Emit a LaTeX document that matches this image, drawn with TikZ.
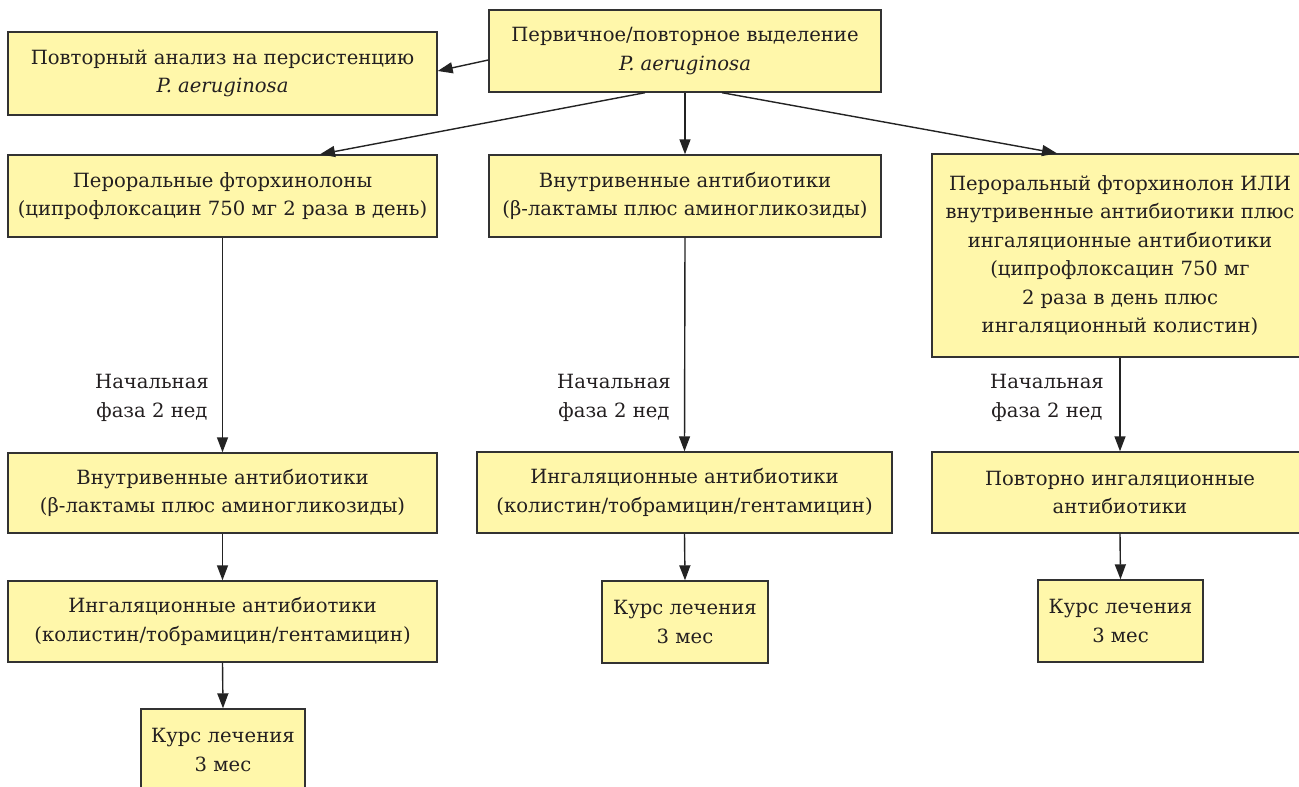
\documentclass[tikz,border=0pt]{standalone}
\usepackage{fontspec}
\setmainfont{DejaVu Serif}
\usetikzlibrary{arrows.meta,calc}
\definecolor{boxfill}{RGB}{255,247,170}
\definecolor{boxline}{RGB}{50,50,50}
\definecolor{arrline}{RGB}{35,35,35}
\definecolor{txt}{RGB}{35,31,32}
\begin{document}
\begin{tikzpicture}[x=1pt,y=-1pt,
  box/.style={draw=boxline,fill=boxfill,line width=1.4pt,align=center,inner sep=0pt,
    text=txt,font=\fontsize{19.6}{28.5}\selectfont},
  arr/.style={draw=arrline,line width=1.4pt,-{Triangle[length=15pt,width=11pt]}},
  lbl/.style={align=center,inner sep=0pt,text=txt,font=\fontsize{19.6}{28.5}\selectfont}]
\useasboundingbox (0,0) rectangle (1299,787);
\fill[white] (0,0) rectangle (1299,787);
% row 0
\node[box,minimum width=392pt,minimum height=82pt] (top) at (685,51)
  {Первичное/повторное выделение\\\textit{P.~aeruginosa}};
\node[box,minimum width=429pt,minimum height=83pt] (rep) at (222.5,73.5)
  {Повторный анализ на персистенцию\\\textit{P.~aeruginosa}};
% row 1
\node[box,minimum width=429pt,minimum height=82pt] (b1) at (222.5,196)
  {Пероральные фторхинолоны\\(ципрофлоксацин 750 мг 2 раза в день)};
\node[box,minimum width=392pt,minimum height=82pt] (b2) at (685,196)
  {Внутривенные антибиотики\\(β-лактамы плюс аминогликозиды)};
\node[box,minimum width=376pt,minimum height=203pt] (b3) at (1120,255.5)
  {Пероральный фторхинолон ИЛИ\\внутривенные антибиотики плюс\\ингаляционные антибиотики\\(ципрофлоксацин 750 мг\\2 раза в день плюс\\ингаляционный колистин)};
% row 2
\node[box,minimum width=429pt,minimum height=80pt] (c1) at (222.5,493)
  {Внутривенные антибиотики\\(β-лактамы плюс аминогликозиды)};
\node[box,minimum width=415pt,minimum height=81pt] (c2) at (684.5,492.5)
  {Ингаляционные антибиотики\\(колистин/тобрамицин/гентамицин)};
\node[box,minimum width=376pt,minimum height=81pt] (c3) at (1120,492.5)
  {Повторно ингаляционные\\антибиотики};
% row 3
\node[box,minimum width=429pt,minimum height=81pt] (d1) at (222.5,621.5)
  {Ингаляционные антибиотики\\(колистин/тобрамицин/гентамицин)};
\node[box,minimum width=166pt,minimum height=82pt] (d2) at (685,622)
  {Курс лечения\\3 мес};
\node[box,minimum width=165pt,minimum height=82pt] (d3) at (1120.5,621)
  {Курс лечения\\3 мес};
% row 4
\node[box,minimum width=164pt,minimum height=82pt] (e1) at (223,750)
  {Курс лечения\\3 мес};
% labels
\node[lbl] (l1) at (152,398) {Начальная\\фаза 2 нед};
\node[lbl] (l2) at (614,398) {Начальная\\фаза 2 нед};
\node[lbl] (l3) at (1047,398) {Начальная\\фаза 2 нед};
% connectors
\draw[arr] ([yshift=-9pt]top.west) -- ([yshift=2.5pt]rep.east);
\draw[arr] ([xshift=-40pt]top.south) -- ([xshift=97.5pt]b1.north);
\draw[arr] (top.south) -- (b2.north);
\draw[arr] ([xshift=37pt]top.south) -- ([xshift=-63pt]b3.north);
\draw[arr] (b1.south) -- (c1.north);
\draw[arr] (b2.south) -- (c2.north);
\draw[arr] (b3.south) -- (c3.north);
\draw[arr] (c1.south) -- (d1.north);
\draw[arr] (c2.south) -- (d2.north);
\draw[arr] (c3.south) -- (d3.north);
\draw[arr] (d1.south) -- (e1.north);
\end{tikzpicture}
\end{document}
